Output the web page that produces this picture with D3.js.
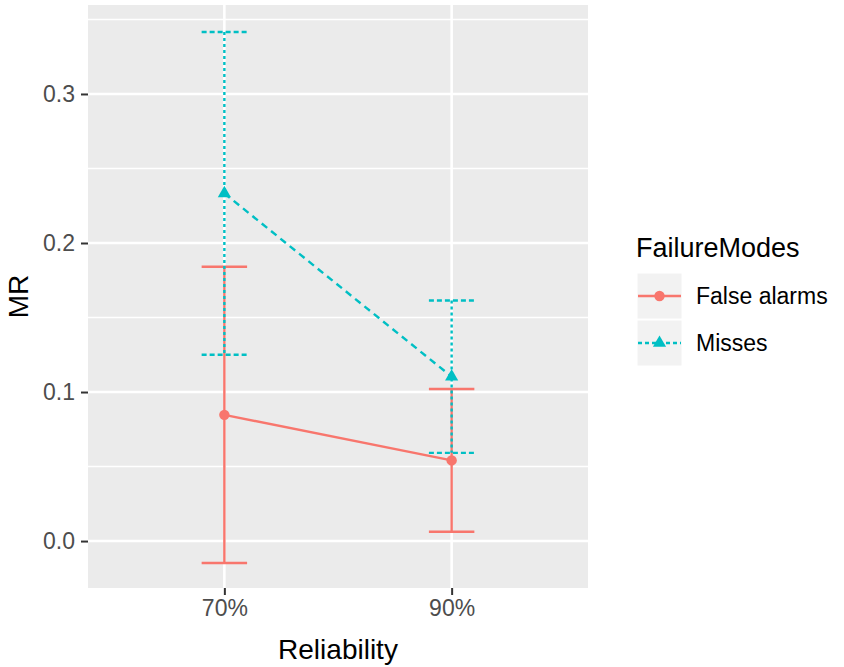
<!DOCTYPE html>
<html>
<head>
<meta charset="utf-8">
<script src="https://cdn.jsdelivr.net/npm/d3@7"></script>
<style>
  html, body { margin: 0; padding: 0; background: #fff; }
  svg { display: block; font-family: "Liberation Sans", Arial, sans-serif; }
</style>
</head>
<body>
<svg id="chart" width="844" height="667"></svg>
<script>
// Reliability levels on the x axis
const reliability = ["70%", "90%"];
// Failure-mode series: mean MR and half-width of the error bar at each level
const modes = ["False alarms", "Misses"];
const falseAlarmMean = [0.0847, 0.0541];
const falseAlarmErr  = [0.0994, 0.0479];
const missesMean     = [0.2333, 0.1103];
const missesErr      = [0.1083, 0.0511];
// y-axis ticks
const yTicks = [0.0, 0.1, 0.2, 0.3];
const yMinor = [0.05, 0.15, 0.25, 0.35];

const colors = { "False alarms": "#F8766D", "Misses": "#00BFC4" };

const series = [
  { name: modes[0], mean: falseAlarmMean, err: falseAlarmErr },
  { name: modes[1], mean: missesMean, err: missesErr }
];

const svg = d3.select("#chart");
const panel = { left: 88, right: 588, top: 5, bottom: 588 };

const x = d3.scalePoint()
  .domain(reliability)
  .range([panel.left, panel.right])
  .padding(0.6);

const y = d3.scaleLinear()
  .domain([-0.0315, 0.3597])
  .range([panel.bottom, panel.top]);

// panel background
svg.append("rect")
  .attr("x", panel.left).attr("y", panel.top)
  .attr("width", panel.right - panel.left)
  .attr("height", panel.bottom - panel.top)
  .attr("fill", "#EBEBEB");

const grid = svg.append("g");
grid.selectAll(".minor").data(yMinor.filter(v => y(v) >= panel.top && y(v) <= panel.bottom))
  .join("line")
  .attr("x1", panel.left).attr("x2", panel.right)
  .attr("y1", d => y(d)).attr("y2", d => y(d))
  .attr("stroke", "#fff").attr("stroke-width", 1.4);
grid.selectAll(".major").data(yTicks)
  .join("line")
  .attr("x1", panel.left).attr("x2", panel.right)
  .attr("y1", d => y(d)).attr("y2", d => y(d))
  .attr("stroke", "#fff").attr("stroke-width", 2.6);
grid.selectAll(".vmajor").data(reliability)
  .join("line")
  .attr("x1", d => x(d)).attr("x2", d => x(d))
  .attr("y1", panel.top).attr("y2", panel.bottom)
  .attr("stroke", "#fff").attr("stroke-width", 2.6);

// axes
const yAxis = svg.append("g")
  .attr("transform", `translate(${panel.left},0)`)
  .call(d3.axisLeft(y).tickValues(yTicks).tickFormat(d3.format(".1f")).tickSize(7).tickPadding(6));
const xAxis = svg.append("g")
  .attr("transform", `translate(0,${panel.bottom})`)
  .call(d3.axisBottom(x).tickSize(7).tickPadding(5));
[yAxis, xAxis].forEach(a => {
  a.select(".domain").remove();
  a.selectAll(".tick line").attr("stroke", "#333").attr("stroke-width", 2);
  a.selectAll(".tick text").attr("fill", "#4D4D4D")
    .style("font-size", "23px").style("font-family", "Liberation Sans, Arial, sans-serif");
});

// axis titles
svg.append("text")
  .attr("x", (panel.left + panel.right) / 2).attr("y", 659)
  .attr("text-anchor", "middle")
  .style("font-size", "28px").attr("fill", "#000")
  .text("Reliability");
svg.append("text")
  .attr("transform", `translate(28,${(panel.top + panel.bottom) / 2}) rotate(-90)`)
  .attr("text-anchor", "middle")
  .style("font-size", "28px").attr("fill", "#000")
  .text("MR");

const capHalf = 0.1 * x.step();
const dashes = {
  "False alarms": { bar: null, cap: null, line: null },
  "Misses": { bar: "3,3", cap: "5,3", line: "7,5" }
};

// error bars
series.forEach(s => {
  const g = svg.append("g");
  const c = colors[s.name];
  const d = dashes[s.name];
  reliability.forEach((r, i) => {
    const cx = x(r);
    const lo = y(s.mean[i] - s.err[i]);
    const hi = y(s.mean[i] + s.err[i]);
    g.append("line").attr("x1", cx).attr("x2", cx).attr("y1", hi).attr("y2", lo)
      .attr("stroke", c).attr("stroke-width", 2.4).attr("stroke-dasharray", d.bar);
    [hi, lo].forEach(yy => {
      g.append("line").attr("x1", cx - capHalf).attr("x2", cx + capHalf)
        .attr("y1", yy).attr("y2", yy)
        .attr("stroke", c).attr("stroke-width", 2.4).attr("stroke-dasharray", d.cap);
    });
  });
});

// connecting lines
const lineGen = d3.line().x((v, i) => x(reliability[i])).y(v => y(v));
series.forEach(s => {
  svg.append("path")
    .attr("d", lineGen(s.mean))
    .attr("fill", "none")
    .attr("stroke", colors[s.name])
    .attr("stroke-width", 2.4)
    .attr("stroke-dasharray", dashes[s.name].line);
});

// points
const circleSym = d3.symbol().type(d3.symbolCircle).size(85);
const triSym = d3.symbol().type(d3.symbolTriangle).size(75);
series.forEach((s, si) => {
  svg.append("g").selectAll("path").data(s.mean).join("path")
    .attr("transform", (v, i) => `translate(${x(reliability[i])},${y(v)})`)
    .attr("d", si === 0 ? circleSym : triSym)
    .attr("fill", colors[s.name]);
});

// legend
const lg = svg.append("g");
lg.append("text").attr("x", 636).attr("y", 257)
  .style("font-size", "27px").attr("fill", "#000").text("FailureModes");
const keyTop = [273, 320];
series.forEach((s, si) => {
  const ky = keyTop[si];
  const cy = ky + 23;
  lg.append("rect").attr("x", 637).attr("y", ky).attr("width", 45).attr("height", 46)
    .attr("fill", "#F2F2F2").attr("stroke", "#fff").attr("stroke-width", 1);
  lg.append("line").attr("x1", 638).attr("x2", 681).attr("y1", cy).attr("y2", cy)
    .attr("stroke", colors[s.name]).attr("stroke-width", 2.4)
    .attr("stroke-dasharray", dashes[s.name].line ? "4,3" : null);
  lg.append("path").attr("transform", `translate(659.5,${cy})`)
    .attr("d", si === 0 ? circleSym : triSym)
    .attr("fill", colors[s.name]);
  lg.append("text").attr("x", 696).attr("y", cy + 8)
    .style("font-size", "23px").attr("fill", "#000").text(s.name);
});
</script>
</body>
</html>
